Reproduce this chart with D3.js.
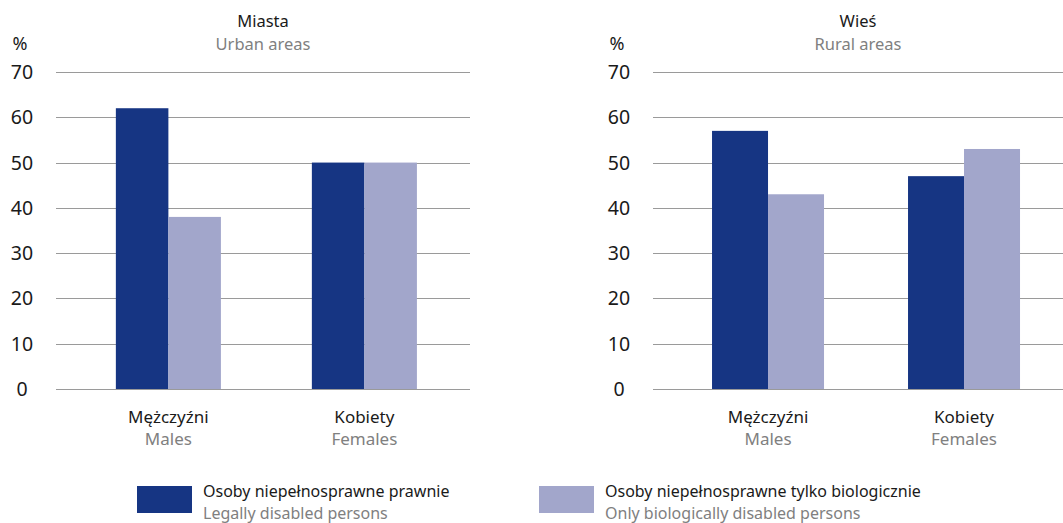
<!DOCTYPE html>
<html><head><meta charset="utf-8">
<script src="https://cdn.jsdelivr.net/npm/d3@7"></script>
<style>body{margin:0;background:#fff}svg{display:block}text{font-family:"Noto Sans",sans-serif}</style>
</head><body><svg id="c" width="1063" height="523"></svg>
<script>
const categoriesPL = ["Mężczyźni", "Kobiety"];
const categoriesEN = ["Males", "Females"];
const panelTitlesPL = ["Miasta", "Wieś"];
const panelTitlesEN = ["Urban areas", "Rural areas"];
const seriesPL = ["Osoby niepełnosprawne prawnie", "Osoby niepełnosprawne tylko biologicznie"];
const seriesEN = ["Legally disabled persons", "Only biologically disabled persons"];
const urbanLegal = [62, 50];
const urbanBio = [38, 50];
const ruralLegal = [57, 47];
const ruralBio = [43, 53];
const yTicks = [0, 10, 20, 30, 40, 50, 60, 70];

const colors = ["#163583", "#a2a6cb"];
const svg = d3.select("#c");
const W = 1063;
const y = d3.scaleLinear().domain([0, 70]).range([389, 72]);

const panels = [
  {x0: 56, x1: 470, pi: 0.464, align: 0.53, legal: urbanLegal, bio: urbanBio},
  {x0: 653, x1: 1073, pi: 0.4286, align: 0.527, legal: ruralLegal, bio: ruralBio}
];

panels.forEach((p, i) => {
  const g = svg.append("g");
  const gridEnd = Math.min(p.x1, W);
  const stepGuess = 196;
  const n = categoriesPL.length;
  const po = ((p.x1 - p.x0) / stepGuess - n + p.pi) / 2;
  const x = d3.scaleBand().domain(categoriesPL).range([p.x0, p.x1])
    .paddingInner(p.pi).paddingOuter(po).align(p.align);
  const xs = d3.scaleBand().domain([0, 1]).range([0, x.bandwidth()]);

  g.selectAll("line.grid").data(yTicks).join("line")
    .attr("x1", p.x0).attr("x2", gridEnd)
    .attr("y1", d => Math.round(y(d)) + 0.5).attr("y2", d => Math.round(y(d)) + 0.5)
    .attr("stroke", "#9a9a9a").attr("stroke-width", 1);

  g.selectAll("text.tick").data(yTicks).join("text")
    .attr("x", p.x0 - 34).attr("y", d => y(d) + 7)
    .attr("text-anchor", "middle").attr("font-size", 19.5).attr("fill", "#1a1a1a")
    .text(d => d);
  g.append("text").attr("x", p.x0 - 36).attr("y", 50).attr("text-anchor", "middle")
    .attr("font-size", 18).attr("fill", "#1a1a1a").text("%");

  const cx = (p.x0 + gridEnd) / 2;
  g.append("text").attr("x", cx).attr("y", 27).attr("text-anchor", "middle")
    .attr("font-size", 16.5).attr("fill", "#1a1a1a").text(panelTitlesPL[i]);
  g.append("text").attr("x", cx).attr("y", 50).attr("text-anchor", "middle")
    .attr("font-size", 16.5).attr("fill", "#808080").text(panelTitlesEN[i]);

  const data = categoriesPL.map((c, j) => ({c, vals: [p.legal[j], p.bio[j]]}));
  const grp = g.selectAll("g.cat").data(data).join("g")
    .attr("transform", d => `translate(${x(d.c)},0)`);
  grp.selectAll("rect").data(d => d.vals).join("rect")
    .attr("x", (d, k) => xs(k)).attr("width", xs.bandwidth())
    .attr("y", d => y(d)).attr("height", d => y(0) - y(d))
    .attr("fill", (d, k) => colors[k]);

  grp.append("text").attr("x", x.bandwidth() / 2).attr("y", 423).attr("text-anchor", "middle")
    .attr("font-size", 17).attr("fill", "#1a1a1a").text(d => d.c);
  grp.append("text").attr("x", x.bandwidth() / 2).attr("y", 445).attr("text-anchor", "middle")
    .attr("font-size", 17).attr("fill", "#808080").text((d, j) => categoriesEN[j]);
});

const legendX = [137, 539];
seriesPL.forEach((s, k) => {
  const g = svg.append("g").attr("transform", `translate(${legendX[k]},0)`);
  g.append("rect").attr("x", 0).attr("y", 486).attr("width", 55).attr("height", 27).attr("fill", colors[k]);
  g.append("text").attr("x", 66).attr("y", 497).attr("font-size", 16).attr("fill", "#1a1a1a").text(s);
  g.append("text").attr("x", 66).attr("y", 518.5).attr("font-size", 16).attr("fill", "#808080").text(seriesEN[k]);
});
</script></body></html>
